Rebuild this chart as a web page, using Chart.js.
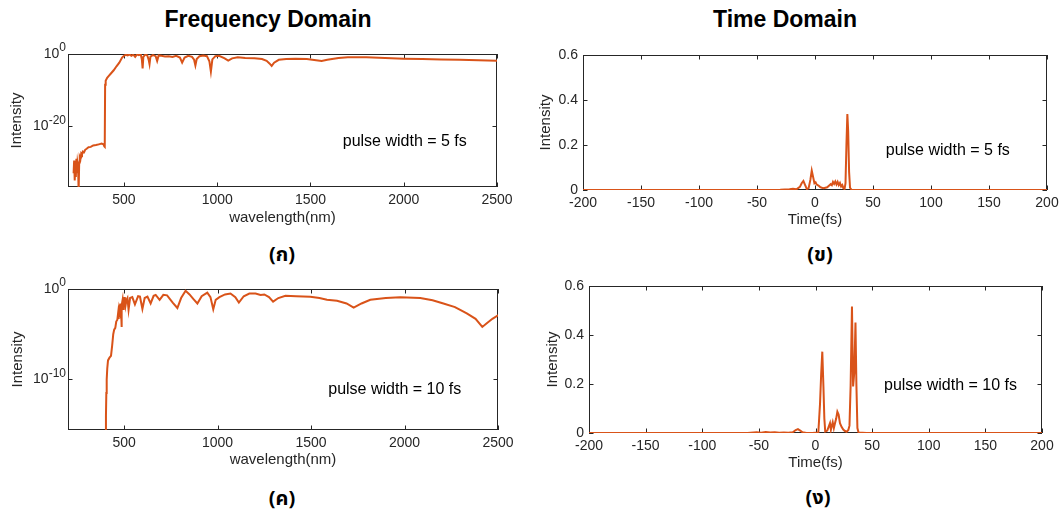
<!DOCTYPE html>
<html>
<head>
<meta charset="utf-8">
<script src="https://cdn.jsdelivr.net/npm/chart.js@4.4.1/dist/chart.umd.min.js"></script>
<style>
  body { margin: 0; background: #fff; width: 1061px; height: 516px; position: relative; overflow: hidden;
         font-family: "Liberation Sans", Arial, sans-serif; }
  canvas { position: absolute; }
  .head { position: absolute; font-weight: bold; font-size: 23px; color: #000; transform: translate(-50%, -50%); white-space: nowrap; }
  .tag { position: absolute; font-size: 20px; font-weight: bold; color: #000; transform: translate(-50%, -50%); white-space: nowrap;
         font-family: "Noto Sans Thai", "Noto Sans", "DejaVu Sans", sans-serif; }
</style>
</head>
<body>
<div class="head" style="left:268px;top:19px">Frequency Domain</div>
<div class="head" style="left:785px;top:19px">Time Domain</div>
<canvas id="freq5"></canvas>
<canvas id="time5"></canvas>
<canvas id="freq10"></canvas>
<canvas id="time10"></canvas>
<div class="tag" style="left:282px;top:255px">(ก)</div>
<div class="tag" style="left:820px;top:255px">(ข)</div>
<div class="tag" style="left:282px;top:499px">(ค)</div>
<div class="tag" style="left:818px;top:498px">(ง)</div>
<script>
// spectra: wavelength (nm) and log10 of intensity
var wl5 = [230, 233, 236, 239, 242, 245, 248, 251, 254, 257,
           260, 263, 267, 271, 275, 280, 286, 292, 300, 310,
           322, 335, 350, 365, 380, 390, 395, 397, 399, 402,
           410, 420, 430, 445, 460, 475, 490, 500, 510, 520,
           530, 540, 550, 560, 570, 580, 590, 596, 600, 604,
           615, 625, 632, 637, 642, 655, 670, 678, 686, 700,
           720, 740, 760, 780, 800, 812, 825, 845, 865, 876,
           883, 890, 905, 925, 945, 958, 966, 974, 990, 1010,
           1040, 1059, 1080, 1110, 1150, 1200, 1240, 1265, 1280, 1292,
           1305, 1330, 1370, 1420, 1480, 1530, 1560, 1590, 1650, 1700,
           1800, 1900, 2000, 2100, 2200, 2300, 2400, 2500];
var logI5 = [-33, -29.5, -35, -30, -34, -29, -33, -30, -31, -38,
             -30, -28.5, -29, -27.5, -27.8, -27, -27.2, -26.5, -26.2, -25.8,
             -25.7, -25.3, -25.2, -25, -24.8, -25, -25.6, -25.7, -8.5, -7.4,
             -6.6, -6, -5.4, -4.5, -3.4, -2.4, -1, -0.5, -0.2, -0.4,
             -0.1, -0.5, -0.2, -0.8, -0.1, -0.3, -0.1, -1.5, -4, -0.8,
             -0.1, -0.4, -1.5, -2.8, -0.7, -0.3, -0.6, -1.9, -0.4, -0.5,
             -0.7, -0.6, -0.8, -0.5, -1.0, -2.4, -1.0, -0.5, -0.8, -1.6,
             -3.2, -1.4, -0.6, -0.4, -0.6, -2, -4.9, -1.5, -0.6, -0.5,
             -1.2, -1.85, -1.2, -0.9, -1.1, -1.2, -1.4, -1.9, -2.6, -3.3,
             -2.4, -1.6, -1.4, -1.3, -1.4, -1.7, -1.9, -1.6, -1.1, -0.9,
             -0.9, -1.1, -1.3, -1.4, -1.5, -1.6, -1.7, -1.85];

var wl10 = [400, 403, 405, 407, 410, 414, 422, 430, 436, 442,
            447, 453, 458, 464, 468, 471, 474, 478, 481, 484,
            486, 488, 492, 495, 498, 501, 504, 508, 513, 518,
            524, 532, 544, 558, 575, 585, 598, 610, 625, 642,
            658, 669, 690, 710, 730, 760, 785, 805, 829, 850,
            870, 892, 915, 945, 962, 977, 990, 1010, 1040, 1069,
            1095, 1114, 1140, 1170, 1203, 1230, 1250, 1275, 1297, 1325,
            1363, 1420, 1496, 1545, 1585, 1639, 1690, 1728, 1770, 1817,
            1900, 1977, 2084, 2150, 2208, 2270, 2333, 2380, 2416, 2440, 2470, 2502];
var logI10 = [-17, -14, -11.5, -10, -8.8, -7.9, -7.6, -7.4, -6.3, -5,
              -4.5, -4.3, -3.6, -3.4, -2.7, -3.3, -2.2, -2.6, -1.6, -2.5,
              -4.2, -1.8, -1.2, -2.2, -0.9, -1.7, -0.9, -1.8, -1.2, -1.0,
              -2.3, -1.0, -0.9, -1.7, -0.8, -0.85, -2.2, -1.0, -0.85, -1.6,
              -0.75, -0.66, -1.2, -0.65, -0.7, -1.5, -2.1, -1.0, -0.2, -0.6,
              -1.1, -1.6, -0.8, -0.4, -0.9, -2.25, -1.2, -0.9, -0.6, -0.5,
              -0.9, -1.5, -0.8, -0.5, -0.5, -0.65, -0.6, -0.9, -1.4, -1.0,
              -0.75, -0.8, -0.85, -1.0, -1.2, -1.3, -1.6, -2.06, -1.6, -1.2,
              -1.0, -0.9, -1.0, -1.25, -1.6, -2.0, -2.7, -3.3, -4.2, -3.8, -3.3, -2.9];

// pulses: time (fs) and intensity
var t5 = [-200, -120, -50, -30, -22, -19, -16, -13, -11.5, -10,
          -8.5, -7, -5.5, -4, -2.8, -1.5, -0.5, 0.5, 1.5, 3,
          4.5, 6, 7.5, 9, 10.5, 12, 13.5, 14.5, 15.5, 16.5,
          17.5, 18.5, 19.5, 20.5, 21.5, 22.5, 23.5, 24.5, 25.5, 26.3,
          27.1, 27.9, 28.6, 29.4, 30.2, 31.5, 40, 120, 200];
var I5 = [0, 0, 0, 0.001, 0.003, 0.005, 0.003, 0.014, 0.03, 0.04,
          0.022, 0.004, 0.008, 0.045, 0.086, 0.055, 0.03, 0.034, 0.024, 0.02,
          0.013, 0.01, 0.008, 0.01, 0.012, 0.019, 0.026, 0.021, 0.036, 0.027,
          0.038, 0.025, 0.036, 0.022, 0.031, 0.016, 0.022, 0.008, 0.005, 0.03,
          0.2, 0.338, 0.26, 0.08, 0.01, 0.001, 0, 0, 0];

var t10 = [-200, -120, -60, -52, -48, -44, -40, -36, -32, -28,
           -24, -20, -17.5, -15.5, -13.5, -11.5, -8, -3, 0, 2.5,
           4, 5, 6, 7, 7.8, 8.6, 10.4, 11.6, 12.8, 13.6,
           14.4, 15.2, 16.2, 17.2, 18.3, 19.3, 20.4, 21.6, 23, 24.5,
           26, 27.5, 29, 30, 31, 32.2, 33.2, 34.3, 35.3, 36.1,
           37, 38, 45, 120, 200];
var I10 = [0, 0, 0, 0.003, 0.001, 0.004, 0.002, 0.003, 0.001, 0.002,
           0.001, 0.003, 0.012, 0.016, 0.01, 0.003, 0, 0, 0.001, 0.002,
           0.12, 0.24, 0.332, 0.19, 0.06, 0.006, 0.01, 0.025, 0.04, 0.013,
           0.03, 0.044, 0.02, 0.04, 0.06, 0.087, 0.075, 0.04, 0.025, 0.014,
           0.008, 0.005, 0.012, 0.03, 0.19, 0.516, 0.19, 0.25, 0.451, 0.2,
           0.02, 0.002, 0, 0, 0];

var wlTicks = [500, 1000, 1500, 2000, 2500];
var tTicks = [-200, -150, -100, -50, 0, 50, 100, 150, 200];
var intensityTicks = [0, 0.2, 0.4, 0.6];
var logTicks5 = [1e-20, 1];
var logTicks10 = [1e-10, 1];

var LINE = '#D95319';
var INK = '#262626';
var FONT = '"Liberation Sans", Arial, sans-serif';

function logPoints(xs, ls) {
    return xs.map(function (x, i) { return {x: x, y: Math.pow(10, ls[i])}; });
}
function linPoints(xs, ys) {
    return xs.map(function (x, i) { return {x: x, y: ys[i]}; });
}

// box with inward ticks on all four sides, plus the note and 10^n labels
var axesBox = {
    id: 'axesBox',
    beforeDatasetsDraw: function (chart) {
        var ctx = chart.ctx, a = chart.chartArea, xs = chart.scales.x, ys = chart.scales.y;
        var tl = 4.5;
        ctx.save();
        ctx.strokeStyle = INK;
        ctx.lineWidth = 1;
        ctx.strokeRect(Math.round(a.left) + 0.5, Math.round(a.top) + 0.5,
                       Math.round(a.right) - Math.round(a.left) - 1, Math.round(a.bottom) - Math.round(a.top) - 1);
        ctx.beginPath();
        xs.ticks.forEach(function (t) {
            var px = Math.round(xs.getPixelForValue(t.value)) + 0.5;
            ctx.moveTo(px, a.bottom); ctx.lineTo(px, a.bottom - tl);
            ctx.moveTo(px, a.top); ctx.lineTo(px, a.top + tl);
        });
        ys.ticks.forEach(function (t) {
            var py = Math.round(ys.getPixelForValue(t.value)) + 0.5;
            ctx.moveTo(a.left, py); ctx.lineTo(a.left + tl, py);
            ctx.moveTo(a.right, py); ctx.lineTo(a.right - tl, py);
        });
        ctx.stroke();
        ctx.restore();
    },
    afterDraw: function (chart, args, opts) {
        var ctx = chart.ctx, a = chart.chartArea, xs = chart.scales.x, ys = chart.scales.y;
        ctx.save();
        if (opts.powerLabels) {
            ctx.fillStyle = INK;
            ctx.textBaseline = 'middle';
            ctx.textAlign = 'right';
            ys.ticks.forEach(function (t) {
                var py = ys.getPixelForValue(t.value);
                var e = String(Math.round(Math.log10(t.value)));
                var right = a.left - 2;
                ctx.font = '12px ' + FONT;
                var ew = ctx.measureText(e).width;
                ctx.fillText(e, right, py - 6);
                ctx.font = '14px ' + FONT;
                ctx.fillText('10', right - ew, py);
            });
        }
        if (opts.note) {
            ctx.fillStyle = '#000';
            ctx.font = '16px ' + FONT;
            ctx.textBaseline = 'middle';
            ctx.textAlign = 'left';
            ctx.fillText(opts.note.text, xs.getPixelForValue(opts.note.x), ys.getPixelForValue(opts.note.y));
        }
        ctx.restore();
    }
};

function panel(id, box, area, cfg) {
    var cv = document.getElementById(id);
    cv.width = box.w;
    cv.height = box.h;
    cv.style.left = box.x + 'px';
    cv.style.top = box.y + 'px';
    cv.style.width = box.w + 'px';
    cv.style.height = box.h + 'px';

    var isLog = cfg.yType === 'logarithmic';
    return new Chart(cv, {
        type: 'line',
        data: {
            datasets: [{
                data: cfg.points,
                borderColor: LINE,
                borderWidth: 2,
                pointRadius: 0,
                tension: 0,
                fill: false
            }]
        },
        options: {
            responsive: false,
            animation: false,
            events: [],
            layout: {padding: {left: box.padLeft, top: area.top - box.y, right: box.x + box.w - area.right, bottom: 0}},
            plugins: {
                legend: {display: false},
                tooltip: {enabled: false},
                axesBox: {note: cfg.note, powerLabels: isLog}
            },
            scales: {
                x: {
                    type: 'linear',
                    min: cfg.xMin,
                    max: cfg.xMax,
                    afterBuildTicks: function (s) { s.ticks = cfg.xTicks.map(function (v) { return {value: v}; }); },
                    afterFit: function (s) {
                        s.height = box.y + box.h - area.bottom;
                        s.paddingLeft = 0;
                        s.paddingRight = 0;
                    },
                    grid: {display: false, drawTicks: false},
                    border: {display: false},
                    ticks: {
                        autoSkip: false, maxRotation: 0, padding: 5, color: INK,
                        font: {family: FONT, size: 14},
                        callback: function (v) { return String(v); }
                    },
                    title: {display: true, text: cfg.xTitle, color: INK, padding: 0, font: {family: FONT, size: 15}}
                },
                y: {
                    type: cfg.yType,
                    min: cfg.yMin,
                    max: cfg.yMax,
                    afterBuildTicks: function (s) { s.ticks = cfg.yTicks.map(function (v) { return {value: v}; }); },
                    afterFit: function (s) {
                        s.width = area.left - box.x - box.padLeft;
                        s.paddingTop = 0;
                        s.paddingBottom = 0;
                    },
                    grid: {display: false, drawTicks: false},
                    border: {display: false},
                    ticks: {
                        display: !isLog, padding: 5, color: INK,
                        font: {family: FONT, size: 14},
                        callback: function (v) { return String(v); }
                    },
                    title: {display: true, text: 'Intensity', color: INK, padding: 0, font: {family: FONT, size: 15}}
                }
            }
        },
        plugins: [axesBox]
    });
}

panel('freq5', {x: 0, y: 36, w: 530, h: 191, padLeft: 8}, {left: 68, top: 54, right: 497, bottom: 187}, {
    points: logPoints(wl5, logI5), yType: 'logarithmic', yMin: 1.6e-37, yMax: 1,
    xMin: 200, xMax: 2500, xTicks: wlTicks, yTicks: logTicks5, xTitle: 'wavelength(nm)',
    note: {text: 'pulse width = 5 fs', x: 1673, y: 6e-25}
});
panel('time5', {x: 530, y: 36, w: 531, h: 193, padLeft: 7}, {left: 583, top: 55, right: 1047, bottom: 190}, {
    points: linPoints(t5, I5), yType: 'linear', yMin: 0, yMax: 0.6,
    xMin: -200, xMax: 200, xTicks: tTicks, yTicks: intensityTicks, xTitle: 'Time(fs)',
    note: {text: 'pulse width = 5 fs', x: 61, y: 0.176}
});
panel('freq10', {x: 0, y: 270, w: 530, h: 199, padLeft: 9}, {left: 68, top: 289, right: 498, bottom: 430}, {
    points: logPoints(wl10, logI10), yType: 'logarithmic', yMin: 2.5e-16, yMax: 1,
    xMin: 200, xMax: 2500, xTicks: wlTicks, yTicks: logTicks10, xTitle: 'wavelength(nm)',
    note: {text: 'pulse width = 10 fs', x: 1592, y: 8e-12}
});
panel('time10', {x: 530, y: 270, w: 531, h: 202, padLeft: 14}, {left: 589, top: 286, right: 1042, bottom: 433}, {
    points: linPoints(t10, I10), yType: 'linear', yMin: 0, yMax: 0.6,
    xMin: -200, xMax: 200, xTicks: tTicks, yTicks: intensityTicks, xTitle: 'Time(fs)',
    note: {text: 'pulse width = 10 fs', x: 60.5, y: 0.194}
});
</script>
</body>
</html>
